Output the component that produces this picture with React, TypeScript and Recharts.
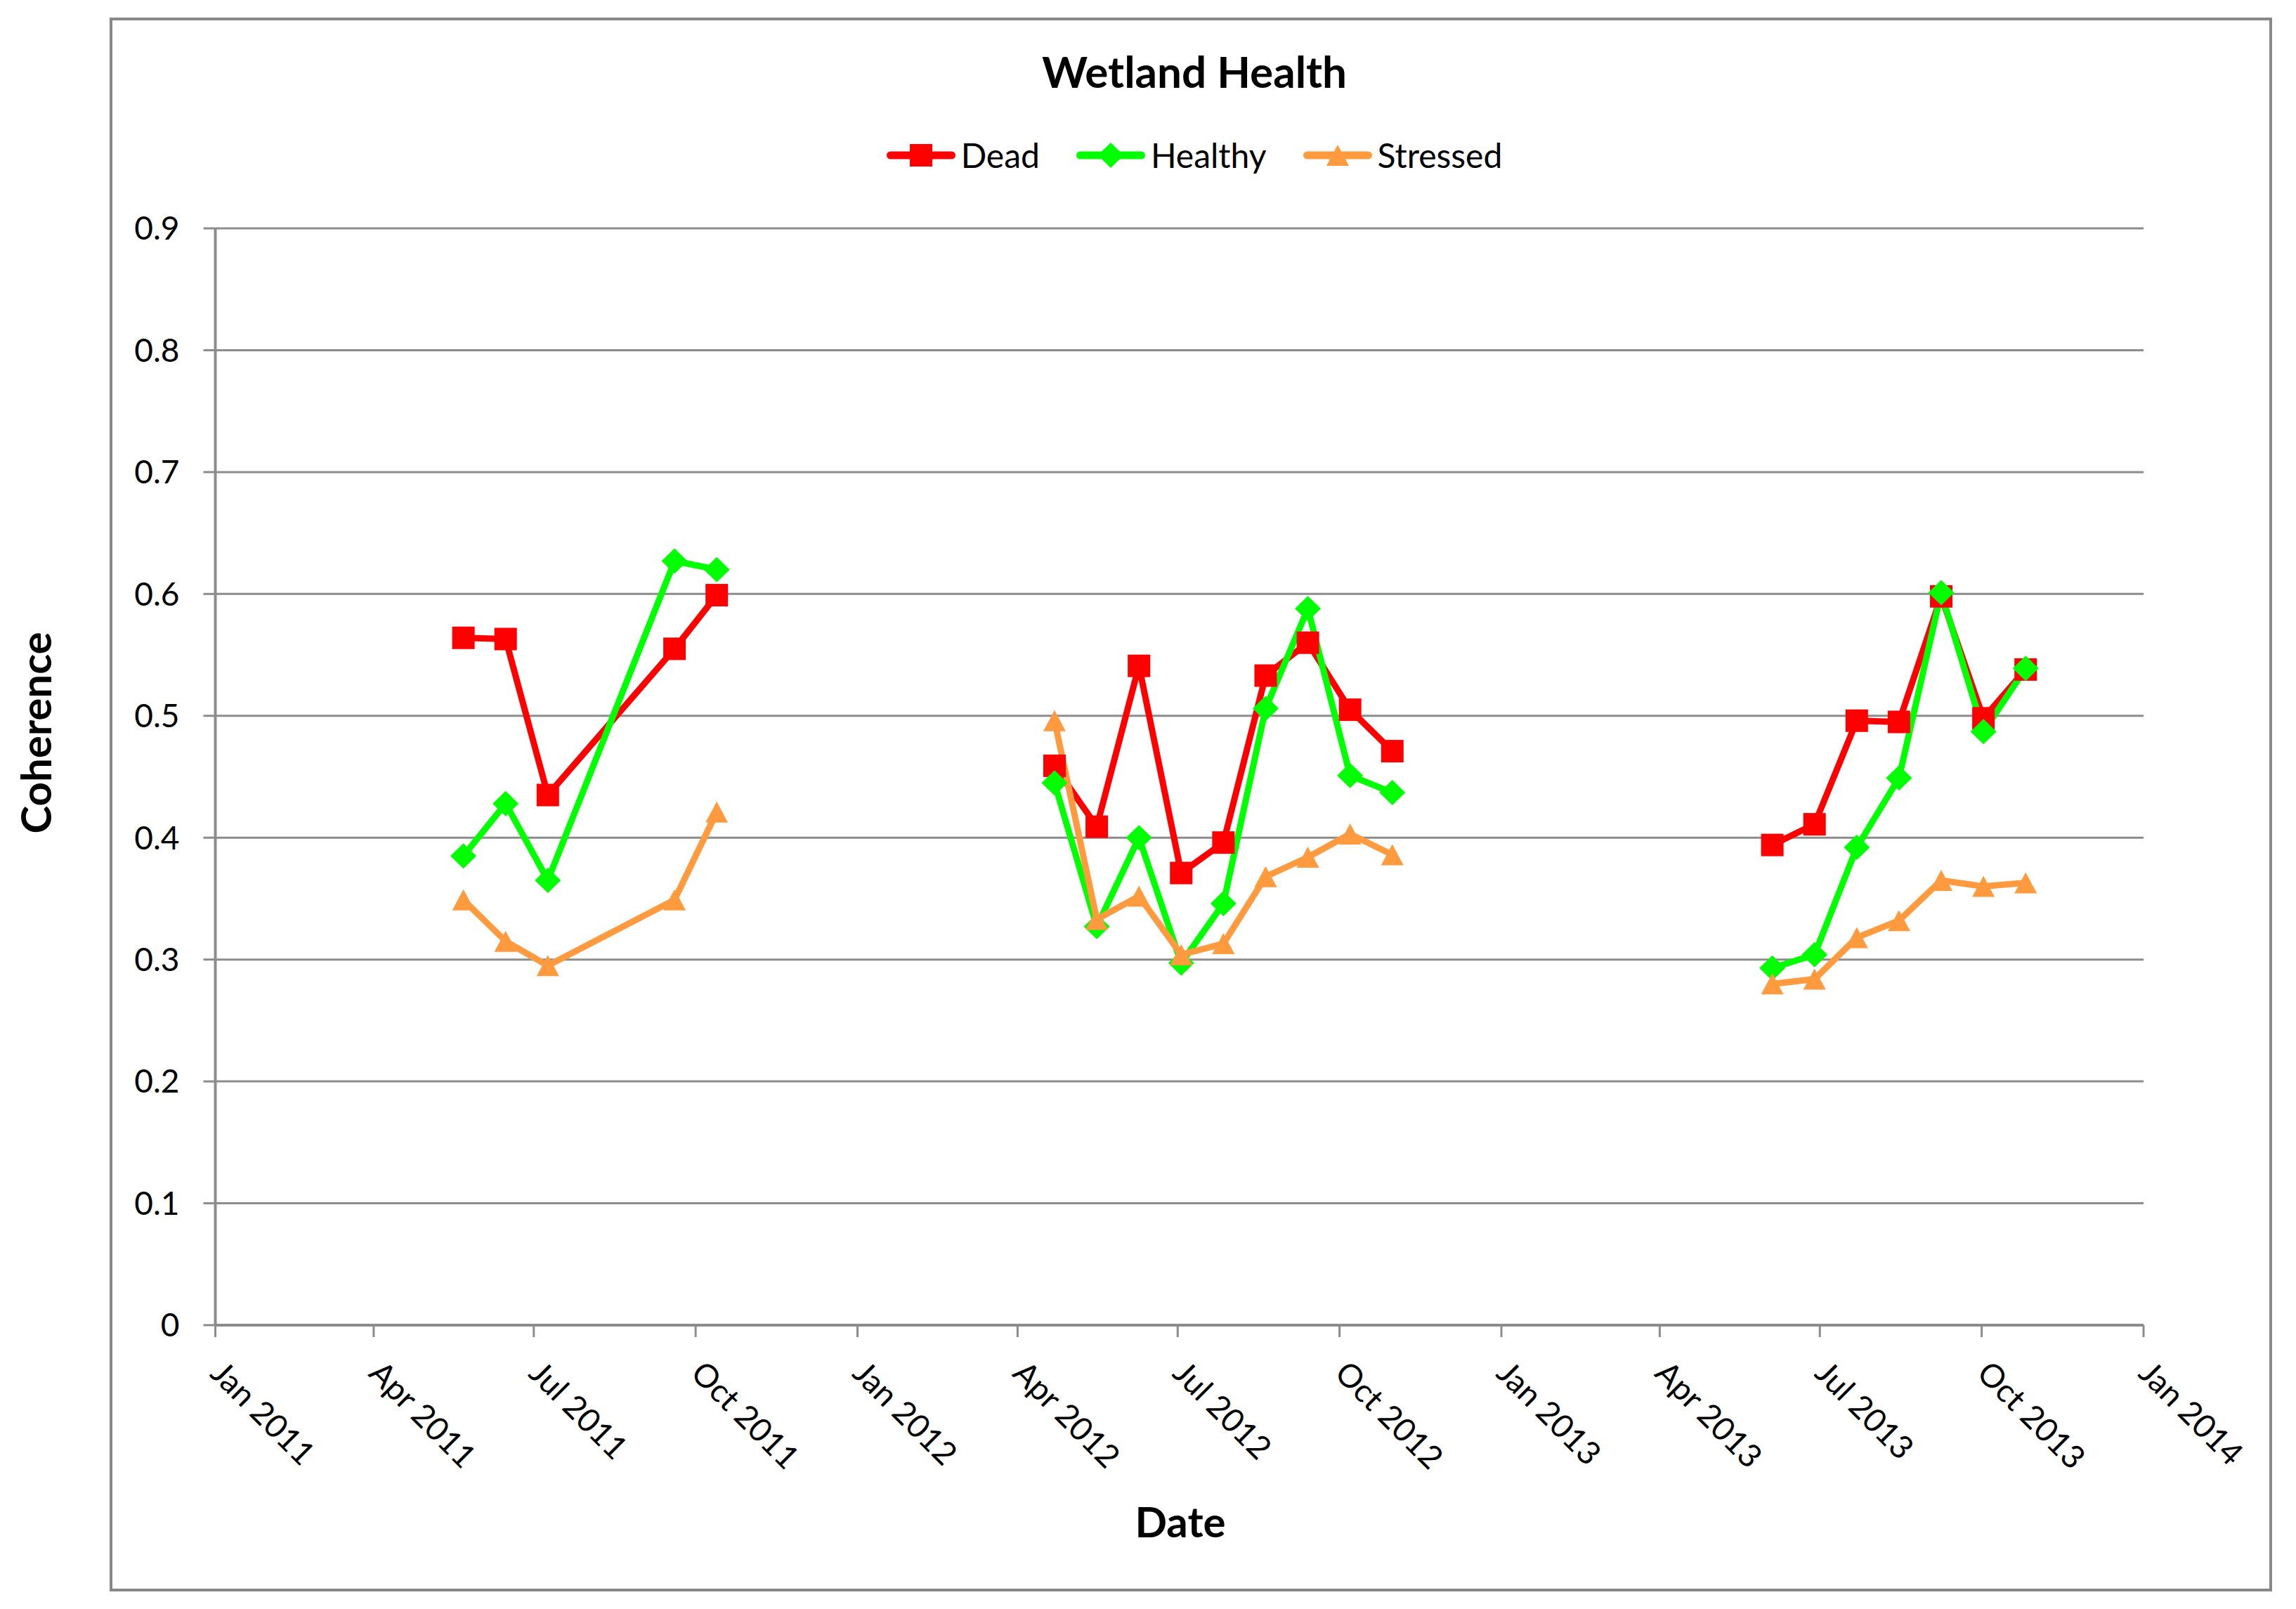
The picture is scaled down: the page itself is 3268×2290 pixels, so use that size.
import React from "react";
import { LineChart, Line, XAxis, YAxis, CartesianGrid, Legend, Label } from "recharts";

// acquisition dates (24-day repeat); the 2012-01-01 / 2013-01-01 rows are gaps
const dates = [
  "2011-05-22", "2011-06-15", "2011-07-09", "2011-09-19", "2011-10-13",
  "2012-01-01",
  "2012-04-22", "2012-05-16", "2012-06-09", "2012-07-03", "2012-07-27",
  "2012-08-20", "2012-09-13", "2012-10-07", "2012-10-31",
  "2013-01-01",
  "2013-06-04", "2013-06-28", "2013-07-22", "2013-08-15", "2013-09-08",
  "2013-10-02", "2013-10-26",
];

const dead = [
  0.564, 0.563, 0.435, 0.555, 0.599,
  null,
  0.459, 0.409, 0.541, 0.371, 0.396, 0.533, 0.56, 0.505, 0.471,
  null,
  0.394, 0.411, 0.496, 0.495, 0.598, 0.498, 0.538,
];

const healthy = [
  0.385, 0.428, 0.365, 0.627, 0.62,
  null,
  0.445, 0.327, 0.4, 0.297, 0.346, 0.506, 0.588, 0.451, 0.437,
  null,
  0.293, 0.304, 0.392, 0.449, 0.601, 0.487, 0.539,
];

const stressed = [
  0.349, 0.315, 0.295, 0.349, 0.421,
  null,
  0.496, 0.333, 0.352, 0.304, 0.313, 0.368, 0.384, 0.403, 0.386,
  null,
  0.28, 0.284, 0.318, 0.332, 0.365, 0.36, 0.363,
];

const yTicks = [0, 0.1, 0.2, 0.3, 0.4, 0.5, 0.6, 0.7, 0.8, 0.9];

const quarterTicks = [
  "2011-01-01", "2011-04-01", "2011-07-01", "2011-10-01",
  "2012-01-01", "2012-04-01", "2012-07-01", "2012-10-01",
  "2013-01-01", "2013-04-01", "2013-07-01", "2013-10-01",
  "2014-01-01",
];

const monthNames = ["Jan", "Feb", "Mar", "Apr", "May", "Jun", "Jul", "Aug", "Sep", "Oct", "Nov", "Dec"];

const FONT = "Lato, Carlito, Calibri, sans-serif";
const GRID = "#8c8c8c";
const RED = "#ff0000";
const GREEN = "#00ff00";
const ORANGE = "#ff9a3f";

const toTime = (d: string) => Date.parse(d + "T00:00:00Z");

const data = dates.map((d, i) => ({
  t: toTime(d),
  Dead: dead[i],
  Healthy: healthy[i],
  Stressed: stressed[i],
}));

function Square({ cx, cy, fill, size = 32 }: any) {
  const h = size / 2;
  return <rect x={cx - h} y={cy - h} width={size} height={size} fill={fill} />;
}

function Diamond({ cx, cy, fill }: any) {
  return <polygon points={`${cx},${cy - 18} ${cx + 18.5},${cy} ${cx},${cy + 18} ${cx - 18.5},${cy}`} fill={fill} />;
}

function Triangle({ cx, cy, fill }: any) {
  return <polygon points={`${cx},${cy - 15} ${cx + 16},${cy + 15} ${cx - 16},${cy + 15}`} fill={fill} />;
}

const series = [
  { key: "Dead", color: RED, Marker: Square },
  { key: "Healthy", color: GREEN, Marker: Diamond },
  { key: "Stressed", color: ORANGE, Marker: Triangle },
];

function makeDot(Marker: any, color: string) {
  return (props: any) => {
    const { cx, cy, index, value } = props;
    if (cx == null || cy == null || value == null) return <g key={index} />;
    return (
      <g key={index}>
        <Marker cx={cx} cy={cy} fill={color} />
      </g>
    );
  };
}

function DateTick({ x, y, payload }: any) {
  const d = new Date(payload.value);
  const label = `${monthNames[d.getUTCMonth()]} ${d.getUTCFullYear()}`;
  const tx = x - 1;
  const ty = y + 46;
  return (
    <text
      x={tx}
      y={ty}
      dy="0.25em"
      transform={`rotate(45 ${tx} ${ty})`}
      textAnchor="start"
      fontSize={46}
      fontFamily={FONT}
      fill="#000"
    >
      {label}
    </text>
  );
}

function TitleAndLegend() {
  return (
    <div style={{ position: "relative", width: 1000, height: 270, fontFamily: FONT, color: "#000" }}>
      <div
        style={{
          position: "absolute",
          top: 51,
          left: 0,
          width: 1000,
          textAlign: "center",
          fontSize: 62,
          fontWeight: 700,
          lineHeight: "100px",
        }}
      >
        Wetland Health
      </div>
      <div
        style={{
          position: "absolute",
          top: 188,
          left: 0,
          width: 1000,
          height: 66,
          display: "flex",
          justifyContent: "center",
          alignItems: "center",
          gap: 52,
          fontSize: 48,
          lineHeight: "66px",
        }}
      >
        {series.map(({ key, color, Marker }) => (
          <div key={key} style={{ display: "flex", alignItems: "center", gap: 8 }}>
            <svg width={98} height={40} style={{ display: "block" }}>
              <line x1={5.5} y1={20} x2={92.5} y2={20} stroke={color} strokeWidth={11} strokeLinecap="round" />
              <Marker cx={49} cy={20} fill={color} />
            </svg>
            <span>{key}</span>
          </div>
        ))}
      </div>
    </div>
  );
}

export default function App(): React.ReactElement {
  return (
    <div style={{ position: "absolute", left: 0, top: 0, width: 3268, height: 2290, background: "#fff" }}>
      <div
        style={{
          position: "absolute",
          left: 156,
          top: 25,
          width: 3078,
          height: 2240,
          border: "4px solid #888888",
          boxSizing: "border-box",
        }}
      />
      <div style={{ position: "absolute", left: 0, top: 0 }}>
        <LineChart
          width={3268}
          height={2290}
          data={data}
          margin={{ top: 325, right: 217, bottom: 204, left: 156.5 }}
        >
          <CartesianGrid vertical={false} stroke={GRID} strokeWidth={3} />
          <XAxis
            dataKey="t"
            type="number"
            scale="time"
            domain={[toTime(quarterTicks[0]), toTime(quarterTicks[quarterTicks.length - 1])]}
            ticks={quarterTicks.map(toTime)}
            interval={0}
            height={200}
            tickSize={17}
            tickMargin={0}
            tick={<DateTick />}
            axisLine={{ stroke: GRID, strokeWidth: 4 }}
            tickLine={{ stroke: GRID, strokeWidth: 3 }}
          >
            <Label
              content={() => (
                <text x={1680} y={2188} textAnchor="middle" fontSize={60} fontWeight={700} fontFamily={FONT} fill="#000">
                  Date
                </text>
              )}
            />
          </XAxis>
          <YAxis
            domain={[0, 0.9]}
            ticks={yTicks}
            interval={0}
            width={150}
            tickSize={17}
            tickMargin={34}
            tick={{ fontSize: 46, fill: "#000", fontFamily: FONT }}
            axisLine={{ stroke: GRID, strokeWidth: 4 }}
            tickLine={{ stroke: GRID, strokeWidth: 3 }}
          >
            <Label
              content={() => (
                <text
                  x={73}
                  y={1043}
                  transform="rotate(-90 73 1043)"
                  textAnchor="middle"
                  fontSize={60}
                  fontWeight={700}
                  fontFamily={FONT}
                  fill="#000"
                >
                  Coherence
                </text>
              )}
            />
          </YAxis>
          <Legend
            layout="horizontal"
            verticalAlign="middle"
            align="center"
            content={() => <TitleAndLegend />}
            wrapperStyle={{ top: 0, left: 1200, width: 1000, height: 270 }}
          />
          {series.map(({ key, color, Marker }) => (
            <Line
              key={key}
              type="linear"
              dataKey={key}
              stroke={color}
              strokeWidth={9}
              strokeLinejoin="round"
              connectNulls={false}
              dot={makeDot(Marker, color)}
              activeDot={false}
              legendType="none"
              isAnimationActive={false}
            />
          ))}
        </LineChart>
      </div>
    </div>
  );
}
